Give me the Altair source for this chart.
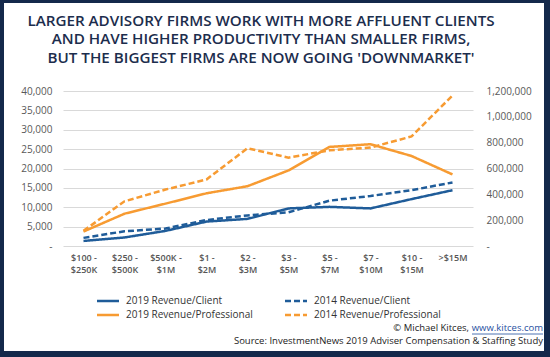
import altair as alt
import pandas as pd

categories = ["$100 - $250K", "$250 - $500K", "$500K - $1M", "$1 - $2M", "$2 - $3M",
              "$3 - $5M", "$5 - $7M", "$7 - $10M", "$10 - $15M", ">$15M"]
rev_client_2019 = [1300, 2200, 3900, 6300, 7000, 9700, 10100, 9700, 12100, 14400]
rev_client_2014 = [2100, 3800, 4500, 6700, 7900, 8700, 11700, 12900, 14400, 16400]
rev_prof_2019 = [112000, 250000, 328000, 408000, 463000, 585000, 767000, 788000, 697000, 554000]
rev_prof_2014 = [117000, 346000, 437000, 515000, 757000, 684000, 741000, 762000, 848000, 1165000]

series_names = ["2019 Revenue/Client", "2014 Revenue/Client",
                "2019 Revenue/Professional", "2014 Revenue/Professional"]
legend_order = ["2019 Revenue/Client", "2019 Revenue/Professional",
                "2014 Revenue/Client", "2014 Revenue/Professional"]
title_lines = ["LARGER ADVISORY FIRMS WORK WITH MORE AFFLUENT CLIENTS",
               "AND HAVE HIGHER PRODUCTIVITY THAN SMALLER FIRMS,",
               "BUT THE BIGGEST FIRMS ARE NOW GOING 'DOWNMARKET'"]
credit_text = "© Michael Kitces,"
credit_url = "www.kitces.com"
source_text = "Source: InvestmentNews 2019 Adviser Compensation & Staffing Study"

rows = []
for name, vals in zip(series_names, [rev_client_2019, rev_client_2014, rev_prof_2019, rev_prof_2014]):
    for c, v in zip(categories, vals):
        rows.append({"category": c, "series": name, "value": v})
df = pd.DataFrame(rows)

FONT = "Open Sans"
BLUE = "#1f5c99"
ORANGE = "#f79b32"
NAVY = "#14294b"
W, H = 410, 155

label_expr = ("indexof(datum.label,' - ')>0 ? [slice(datum.label,0,indexof(datum.label,' - ')+2), "
              "slice(datum.label,indexof(datum.label,' - ')+3)] : datum.label")

xenc = alt.X("category:N", sort=categories, title=None,
             scale=alt.Scale(paddingInner=0, paddingOuter=0.5),
             axis=alt.Axis(labelAngle=0, labelExpr=label_expr, ticks=False, domain=False,
                           labelFont=FONT, labelFontSize=9, labelFontWeight=600,
                           labelColor="#555555", labelPadding=7, labelLineHeight=12,
                           grid=False))

colors_map = {"2019 Revenue/Client": BLUE, "2014 Revenue/Client": BLUE,
              "2019 Revenue/Professional": ORANGE, "2014 Revenue/Professional": ORANGE}
dash_map = {"2019 Revenue/Client": [1, 0], "2014 Revenue/Client": [6, 3],
            "2019 Revenue/Professional": [1, 0], "2014 Revenue/Professional": [6, 3]}

def make_legend():
    return alt.Legend(title=None, orient="none", legendX=38, legendY=203, columns=2,
                      symbolType="M-2,0H2", symbolSize=121, symbolStrokeWidth=2.5,
                      labelFont=FONT, labelFontSize=10, labelColor="#333333",
                      columnPadding=27, rowPadding=2, labelOffset=11, padding=0)

color = alt.Color("series:N", scale=alt.Scale(domain=legend_order,
                                              range=[colors_map[s] for s in legend_order]),
                  legend=make_legend())
dash = alt.StrokeDash("series:N", scale=alt.Scale(domain=legend_order,
                                                   range=[dash_map[s] for s in legend_order]),
                      legend=make_legend())

base = alt.Chart(df)

client = base.transform_filter(
    alt.FieldOneOfPredicate(field="series", oneOf=series_names[:2])
).mark_line(strokeWidth=2.5).encode(
    x=xenc,
    y=alt.Y("value:Q", title=None, scale=alt.Scale(domain=[0, 40000], nice=False),
            axis=alt.Axis(values=list(range(0, 40001, 5000)),
                          labelExpr="datum.value == 0 ? '-' : format(datum.value, ',')",
                          ticks=False, domain=False, gridColor="#d9d9d9", gridWidth=1,
                          labelFont=FONT, labelFontSize=10, labelColor="#595959", labelPadding=11)),
    color=color, strokeDash=dash,
)

prof = base.transform_filter(
    alt.FieldOneOfPredicate(field="series", oneOf=series_names[2:])
).mark_line(strokeWidth=2.5).encode(
    x=xenc,
    y=alt.Y("value:Q", title=None, scale=alt.Scale(domain=[0, 1200000], nice=False),
            axis=alt.Axis(orient="right", values=list(range(0, 1200001, 200000)),
                          labelExpr="datum.value == 0 ? '-' : format(datum.value, ',')",
                          ticks=False, domain=False, grid=False,
                          labelFont=FONT, labelFontSize=10, labelColor="#595959", labelPadding=13)),
    color=color, strokeDash=dash,
)

one = alt.Data(values=[{"k": 1}])

def rect(x, x2, y, y2):
    return alt.Chart(one).mark_rect(color=NAVY).encode(
        x=alt.value(x), x2=alt.value(x2), y=alt.value(y), y2=alt.value(y2))

borders = [rect(-63, -59, -91, 266), rect(481, 487, -91, 266),
           rect(-63, 487, -91, -88), rect(-63, 487, 260, 266)]

title_layers = []
for i, line in enumerate(title_lines):
    title_layers.append(alt.Chart(one).mark_text(
        text=line, font=FONT, fontSize=15.2, fontWeight=600, color="#1c2d4d",
        align="center", baseline="middle").encode(x=alt.value(198), y=alt.value(-70 + 18.3 * i)))

credit = alt.Chart(one).mark_text(text=credit_text, font=FONT, fontSize=9.5, color="#222222",
                                  align="right", baseline="middle").encode(
    x=alt.value(406), y=alt.value(237))
url = alt.Chart(one).mark_text(text=credit_url, font=FONT, fontSize=9.5, color="#1f4fa0",
                               align="right", baseline="middle").encode(
    x=alt.value(480), y=alt.value(237))
underline = alt.Chart(one).mark_rule(color="#1f4fa0", strokeWidth=0.8).encode(
    x=alt.value(409), x2=alt.value(480), y=alt.value(243), y2=alt.value(243))
source = alt.Chart(one).mark_text(text=source_text, font=FONT, fontSize=9.5, color="#222222",
                                  align="right", baseline="middle").encode(
    x=alt.value(480), y=alt.value(250))

chart = alt.layer(client, prof, *borders, *title_layers, credit, url, underline, source).resolve_scale(
    y="independent"
).properties(
    width=W, height=H,
    autosize=alt.AutoSizeParams(type="none"),
    padding={"left": 63, "top": 91, "right": 77, "bottom": 111},
    background="white",
).configure_view(stroke=None)

chart.save("out.html", embed_options={"renderer": "svg", "actions": False})
